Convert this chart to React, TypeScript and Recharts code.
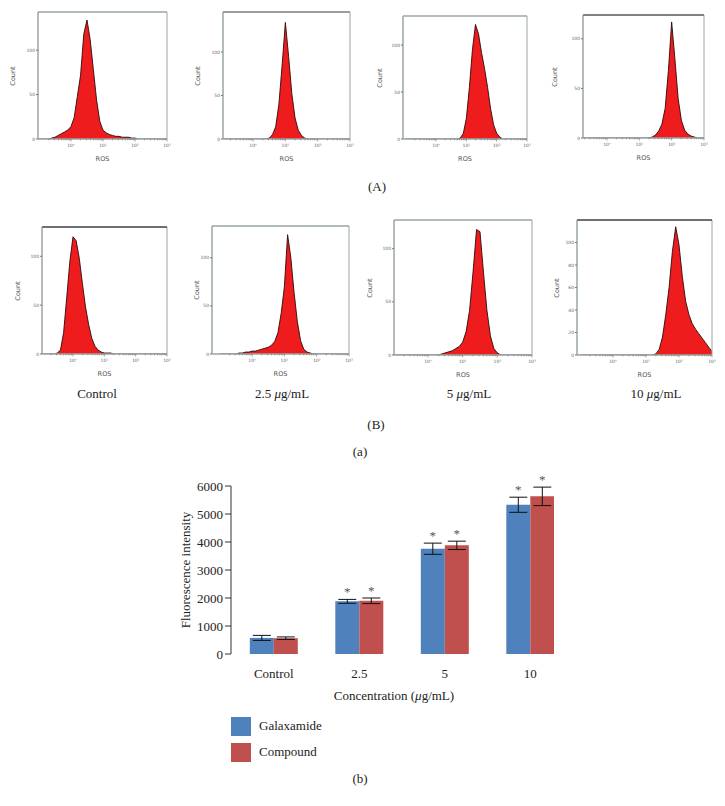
import React from "react";
import {
  Area,
  AreaChart,
  Bar,
  BarChart,
  ErrorBar,
  Label,
  LabelList,
  Legend,
  ReferenceArea,
  ReferenceLine,
  XAxis,
  YAxis,
} from "recharts";

const SERIF = '"Liberation Serif", "DejaVu Serif", serif';
const SANS = '"DejaVu Sans", "Liberation Sans", sans-serif';

// ---- flow cytometry histograms: counts per log10(ROS) bin ----
const ROS_LOG = [
  -1.0, -0.9, -0.8, -0.7, -0.6, -0.5, -0.4, -0.3, -0.2, -0.1, 0.0, 0.1, 0.2, 0.3,
  0.4, 0.5, 0.6, 0.7, 0.8, 0.9, 1.0, 1.1, 1.2, 1.3, 1.4, 1.5, 1.6, 1.7, 1.8, 1.9,
  2.0, 2.1, 2.2, 2.3, 2.4, 2.5, 2.6, 2.7, 2.8, 2.9, 3.0,
];
const DECADES = [0, 1, 2, 3];
const DECADE_LABELS = ["10⁰", "10¹", "10²", "10³"];
const MINOR_MULTIPLIERS = [2, 3, 4, 5, 6, 7, 8, 9];

const countsA1 = [0, 0, 0, 0, 1, 2, 4, 6, 8, 10, 14, 24, 48, 72, 118, 134, 112, 78, 44, 20, 10, 7, 5, 4, 3, 3, 2, 2, 2, 1, 1, 0, 0, 0, 0, 0, 0, 0, 0, 0, 0];
const countsA2 = [0, 0, 0, 0, 0, 0, 0, 0, 0, 0, 0, 0, 0, 0, 0, 1, 5, 14, 40, 85, 134, 95, 52, 24, 10, 4, 1, 0, 0, 0, 0, 0, 0, 0, 0, 0, 0, 0, 0, 0, 0];
const countsA3 = [0, 0, 0, 0, 0, 0, 0, 0, 0, 0, 0, 0, 0, 0, 0, 0, 0, 0, 1, 6, 22, 55, 95, 122, 112, 92, 75, 55, 32, 15, 6, 2, 0, 0, 0, 0, 0, 0, 0, 0, 0];
const countsA4 = [0, 0, 0, 0, 0, 0, 0, 0, 0, 0, 0, 0, 0, 0, 0, 0, 0, 0, 0, 0, 0, 0, 0, 0, 1, 3, 7, 14, 30, 68, 117, 80, 40, 18, 8, 4, 2, 1, 0, 0, 0];
const countsB1 = [0, 0, 0, 0, 0, 1, 4, 22, 58, 95, 120, 116, 98, 72, 48, 30, 16, 8, 4, 2, 1, 1, 1, 0, 0, 0, 0, 0, 0, 0, 0, 0, 0, 0, 0, 0, 0, 0, 0, 0, 0];
const countsB2 = [0, 0, 0, 0, 0, 0, 1, 1, 2, 2, 3, 3, 4, 5, 6, 7, 9, 13, 22, 42, 70, 124, 100, 64, 34, 14, 5, 2, 1, 0, 0, 0, 0, 0, 0, 0, 0, 0, 0, 0, 0];
const countsB3 = [0, 0, 0, 0, 0, 0, 0, 0, 0, 0, 0, 0, 0, 0, 1, 2, 3, 4, 6, 8, 12, 22, 42, 78, 118, 116, 78, 42, 18, 6, 2, 0, 0, 0, 0, 0, 0, 0, 0, 0, 0];
const countsB4 = [0, 0, 0, 0, 0, 0, 0, 0, 0, 0, 0, 0, 0, 0, 0, 0, 0, 0, 0, 0, 0, 0, 0, 1, 5, 16, 36, 60, 92, 114, 98, 70, 48, 36, 28, 23, 19, 15, 11, 7, 3];

const COUNT_TICKS = [0, 50, 100];
const COUNT_TICKS_FINE = [0, 20, 40, 60, 80, 100];

const ROW_B_CAPTIONS = ["Control", "2.5", "5", "10"];

// ---- bar chart ----
const CONCENTRATIONS = ["Control", "2.5", "5", "10"];
const SERIES_NAMES = ["Galaxamide", "Compound"];
const GALAXAMIDE = [575, 1880, 3760, 5330];
const GALAXAMIDE_SD = [90, 70, 200, 270];
const COMPOUND = [565, 1900, 3880, 5630];
const COMPOUND_SD = [45, 100, 150, 330];
const SIGNIFICANT = ["", "*", "*", "*"];
const INTENSITY_TICKS = [0, 1000, 2000, 3000, 4000, 5000, 6000];
const EDGE_TICKS = [0, 1, 2, 3, 4];

const BLUE = "#4f81bd";
const RED = "#c0504d";
const FRAME = "#9aa5a5";

type Panel = {
  counts: number[];
  left: number;
  top: number;
  w: number;
  h: number;
  x0: number;
  yMax: number;
  yTicks: number[];
  countDx: number;
  topColor: string;
};

const PANELS: Panel[] = [
  { counts: countsA1, left: 38, top: 12, w: 129, h: 127, x0: -1.03, yMax: 143, yTicks: COUNT_TICKS, countDx: 25, topColor: FRAME },
  { counts: countsA2, left: 223, top: 12, w: 127, h: 127, x0: -0.93, yMax: 146, yTicks: COUNT_TICKS, countDx: 25, topColor: "#6a6a6a" },
  { counts: countsA3, left: 403, top: 16, w: 124, h: 123, x0: -1.09, yMax: 131, yTicks: COUNT_TICKS, countDx: 23, topColor: FRAME },
  { counts: countsA4, left: 583, top: 15, w: 121, h: 123, x0: -0.74, yMax: 124, yTicks: COUNT_TICKS, countDx: 28, topColor: "#333" },
  { counts: countsB1, left: 42, top: 227, w: 125, h: 127, x0: -0.99, yMax: 130, yTicks: COUNT_TICKS, countDx: 24, topColor: "#111" },
  { counts: countsB2, left: 212, top: 226, w: 137, h: 128, x0: -1.24, yMax: 133, yTicks: COUNT_TICKS, countDx: 15, topColor: FRAME },
  { counts: countsB3, left: 394, top: 220, w: 138, h: 135, x0: -0.98, yMax: 127, yTicks: COUNT_TICKS, countDx: 24, topColor: FRAME },
  { counts: countsB4, left: 577, top: 220, w: 135, h: 135, x0: -1.09, yMax: 120, yTicks: COUNT_TICKS_FINE, countDx: 20, topColor: "#111" },
];

const LOG_TICKS = [
  ...DECADES,
  ...[-1, 0, 1, 2].flatMap((d) => MINOR_MULTIPLIERS.map((m) => d + Math.log10(m))),
];

function LogTick(props: any) {
  const { x, y, payload } = props;
  const idx = DECADES.indexOf(payload.value);
  const axisY = y - 3;
  return (
    <g>
      <line x1={x} x2={x} y1={axisY} y2={axisY + (idx >= 0 ? 2.5 : 1.3)} stroke="#666" strokeWidth={0.6} />
      {idx >= 0 && (
        <text x={x} y={axisY + 8} fontSize={4.5} textAnchor="middle" fill="#666" fontFamily={SANS}>
          {DECADE_LABELS[idx]}
        </text>
      )}
    </g>
  );
}

function FlowPanel({ p }: { p: Panel }) {
  const data = ROS_LOG.map((ros, i) => ({ ros, count: p.counts[i] }));
  const axisW = 30;
  const chartW = p.w + axisW + 4;
  const chartH = p.h + 4 + 14;
  const ticks = LOG_TICKS.filter((t) => t >= p.x0 && t <= 3);
  return (
    <div style={{ position: "absolute", left: p.left - axisW, top: p.top - 4 }}>
      <AreaChart width={chartW} height={chartH} data={data} margin={{ top: 4, right: 4, bottom: 0, left: 0 }}>
        <XAxis
          dataKey="ros"
          type="number"
          domain={[p.x0, 3]}
          allowDataOverflow
          ticks={ticks}
          interval={0}
          tick={<LogTick />}
          tickLine={false}
          tickSize={2}
          tickMargin={1}
          axisLine={{ stroke: FRAME }}
          height={14}
        />
        <YAxis
          type="number"
          domain={[0, p.yMax]}
          allowDataOverflow
          ticks={p.yTicks}
          interval={0}
          width={axisW}
          tickSize={2}
          tickMargin={1}
          tick={{ fontSize: 4.5, fill: "#666", fontFamily: SANS }}
          tickLine={{ stroke: "#777" }}
          axisLine={{ stroke: FRAME }}
        />
        <Area
          dataKey="count"
          type="linear"
          fill="#ee1c1c"
          fillOpacity={1}
          stroke="#2b0a0a"
          strokeWidth={0.9}
          isAnimationActive={false}
        />
        <ReferenceArea x1={p.x0} x2={3} y1={0} y2={p.yMax} fill="none" stroke={FRAME} strokeWidth={1} />
        <ReferenceLine y={p.yMax} stroke={p.topColor} strokeWidth={1.2} />
      </AreaChart>
      <div
        style={{
          position: "absolute",
          left: axisW - p.countDx - 20,
          top: 4 + p.h / 2 - 5,
          width: 40,
          lineHeight: "10px",
          textAlign: "center",
          transform: "rotate(-90deg)",
          fontSize: 6.5,
          fontFamily: SANS,
          color: "#555",
        }}
      >
        Count
      </div>
      <div
        style={{
          position: "absolute",
          left: axisW + p.w / 2 - 20,
          top: 4 + p.h + 15,
          width: 40,
          lineHeight: "10px",
          textAlign: "center",
          fontSize: 6.5,
          fontFamily: SANS,
          color: "#555",
        }}
      >
        ROS
      </div>
    </div>
  );
}

function Caption({ x, y, children }: { x: number; y: number; children: React.ReactNode }) {
  return (
    <div
      style={{
        position: "absolute",
        left: x - 60,
        top: y - 8,
        width: 120,
        lineHeight: "16px",
        textAlign: "center",
        fontSize: 13,
        color: "#222",
      }}
    >
      {children}
    </div>
  );
}

const barData = CONCENTRATIONS.map((conc, i) => ({
  conc,
  galaxamide: GALAXAMIDE[i],
  galaxamideSd: GALAXAMIDE_SD[i],
  compound: COMPOUND[i],
  compoundSd: COMPOUND_SD[i],
  sig: SIGNIFICANT[i],
}));

// asterisk sits above the top of the error bar; pixel height of the bar gives the scale
function starLabel(values: number[], errs: number[]) {
  return (props: any) => {
    const { x, y, width, height, index, value } = props;
    if (!value) return null;
    const pxPerUnit = Number(height) / values[index];
    const capTop = Number(y) - errs[index] * pxPerUnit;
    return (
      <text x={Number(x) + Number(width) / 2} y={capTop - 3} textAnchor="middle" fontSize={13} fill="#555" fontFamily={SERIF}>
        {value}
      </text>
    );
  };
}

function ConcentrationLabel(props: any) {
  const vb = props.viewBox || { x: 0, y: 0, width: 0 };
  return (
    <text x={vb.x + vb.width / 2 - 8} y={vb.y + 46} textAnchor="middle" fontSize={13} fill="#222" fontFamily={SERIF}>
      Concentration (<tspan fontStyle="italic">μ</tspan>g/mL)
    </text>
  );
}

function LegendBlock(props: any) {
  const items = [...(props.payload || [])].sort(
    (a: any, b: any) => SERIES_NAMES.indexOf(a.value) - SERIES_NAMES.indexOf(b.value),
  );
  return (
    <div style={{ paddingLeft: 60, paddingTop: 22, fontFamily: SERIF, fontSize: 13, color: "#222" }}>
      {items.map((item: any) => (
        <div key={item.value} style={{ display: "flex", alignItems: "center", height: 20, marginBottom: 6 }}>
          <span style={{ width: 20, height: 19, background: item.color, display: "inline-block", marginRight: 8 }} />
          <span>{item.value}</span>
        </div>
      ))}
    </div>
  );
}

function IntensityChart() {
  return (
    <div style={{ position: "absolute", left: 150, top: 470, width: 404, height: 298, overflow: "hidden" }}>
      <BarChart
        width={423}
        height={298}
        data={barData}
        margin={{ top: 16, right: 0, left: 21, bottom: 0 }}
        barCategoryGap="22%"
        barGap={0}
      >
        <XAxis
          xAxisId="edges"
          type="number"
          domain={[0, 4]}
          allowDataOverflow
          ticks={EDGE_TICKS}
          interval={0}
          tick={() => <g />}
          tickSize={7}
          tickLine={{ stroke: "#333" }}
          axisLine={{ stroke: "#333" }}
          height={0}
        />
        <XAxis
          xAxisId="cat"
          dataKey="conc"
          axisLine={false}
          tickLine={false}
          tickSize={0}
          tickMargin={15}
          interval={0}
          height={40}
          tick={{ fontSize: 13, fill: "#222", fontFamily: SERIF }}
        >
          <Label content={<ConcentrationLabel />} />
        </XAxis>
        <YAxis
          domain={[0, 6000]}
          ticks={INTENSITY_TICKS}
          interval={0}
          width={60}
          tickSize={6}
          tick={{ fontSize: 13, fill: "#222", fontFamily: SERIF }}
          tickLine={{ stroke: "#333" }}
          axisLine={{ stroke: "#333" }}
          label={{
            value: "Fluorescence intensity",
            angle: -90,
            position: "insideLeft",
            offset: 14,
            style: { textAnchor: "middle", fontSize: 13, fill: "#222", fontFamily: SERIF },
          }}
        />
        <Legend verticalAlign="bottom" align="left" layout="horizontal" content={<LegendBlock />} />
        <Bar xAxisId="cat" dataKey="galaxamide" name={SERIES_NAMES[0]} fill={BLUE} isAnimationActive={false}>
          <ErrorBar dataKey="galaxamideSd" width={9} stroke="#111" strokeWidth={1} direction="y" />
          <LabelList dataKey="sig" content={starLabel(GALAXAMIDE, GALAXAMIDE_SD)} />
        </Bar>
        <Bar xAxisId="cat" dataKey="compound" name={SERIES_NAMES[1]} fill={RED} isAnimationActive={false}>
          <ErrorBar dataKey="compoundSd" width={9} stroke="#111" strokeWidth={1} direction="y" />
          <LabelList dataKey="sig" content={starLabel(COMPOUND, COMPOUND_SD)} />
        </Bar>
      </BarChart>
    </div>
  );
}

export default function App() {
  return (
    <div
      style={{
        position: "absolute",
        left: 0,
        top: 0,
        width: 725,
        height: 806,
        background: "#fff",
        fontFamily: SERIF,
      }}
    >
      {PANELS.map((p, i) => (
        <FlowPanel key={i} p={p} />
      ))}
      <Caption x={377} y={187}>(A)</Caption>
      <Caption x={97} y={394}>{ROW_B_CAPTIONS[0]}</Caption>
      <Caption x={282} y={394}>
        {ROW_B_CAPTIONS[1]} <i>μ</i>g/mL
      </Caption>
      <Caption x={469} y={394}>
        {ROW_B_CAPTIONS[2]} <i>μ</i>g/mL
      </Caption>
      <Caption x={656} y={394}>
        {ROW_B_CAPTIONS[3]} <i>μ</i>g/mL
      </Caption>
      <Caption x={376} y={425}>(B)</Caption>
      <Caption x={360} y={452}>(a)</Caption>
      <IntensityChart />
      <Caption x={360} y={779}>(b)</Caption>
    </div>
  );
}
